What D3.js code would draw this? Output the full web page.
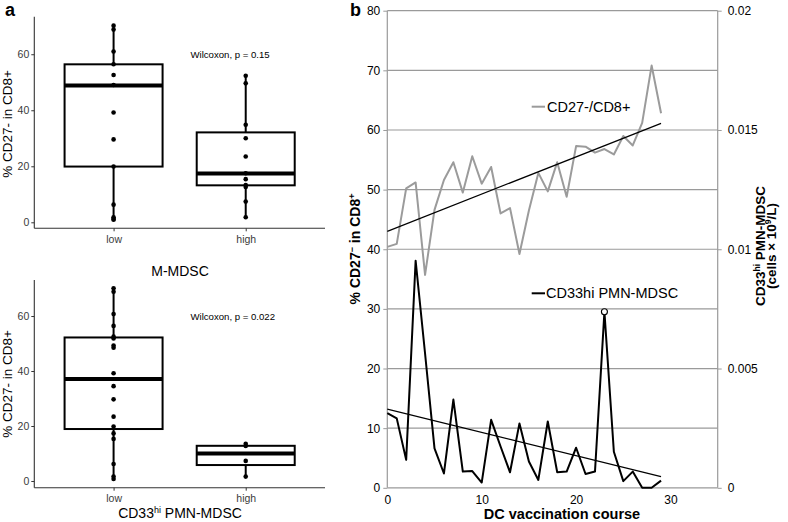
<!DOCTYPE html>
<html><head><meta charset="utf-8">
<script src="https://cdn.jsdelivr.net/npm/d3@7"></script>
<style>
body{margin:0;background:#fff;}
svg{display:block;font-family:"Liberation Sans",Arial,Helvetica,sans-serif;}
</style></head>
<body><svg id="c" width="788" height="522"></svg>
<script>
// ---------- Panel a data ----------
const groups = ["low","high"];
// top: M-MDSC
const mPointsLow  = [70.2,68.8,61.0,56.4,52.6,49.0,39.2,29.6,19.9,6.3,1.8,1.2,0.9];
const mPointsHigh = [52.3,49.6,34.8,30.0,23.5,17.5,15.4,13.3,12.6,7.4,1.8];
const mBoxLow  = {min:0.9, q1:19.9, med:48.8, q3:56.4, max:70.2};
const mBoxHigh = {min:1.8, q1:13.2, med:17.4, q3:32.1, max:52.3};
// bottom: CD33hi PMN-MDSC
const pPointsLow  = [70.1,68.8,60.7,56.4,52.5,51.8,49.3,48.5,39.2,34.5,29.7,23.4,19.8,17.3,15.3,6.2,1.6,0.7];
const pPointsHigh = [13.5,12.7,7.3,1.6];
const pBoxLow  = {min:0.7, q1:18.9, med:37.1, q3:52.2, max:70.1};
const pBoxHigh = {min:1.6, q1:5.8, med:10.0, q3:12.8, max:13.5};
const aTicks = [0,20,40,60];

// ---------- Panel b data ----------
const course = [0,1,2,3,4,5,6,7,8,9,10,11,12,13,14,15,16,17,18,19,20,21,22,23,24,25,26,27,28,29];
const cd27 = [40.4,40.9,50.2,51.2,35.7,46.6,51.6,54.6,49.5,55.6,51.0,53.8,46.0,46.9,39.2,46.5,52.8,49.7,54.6,48.8,57.3,57.2,56.2,56.8,55.9,59.0,57.4,61.2,70.8,62.8];
const cd33 = [0.00313,0.00291,0.00117,0.00952,0.00563,0.00165,0.00060,0.00370,0.00068,0.00070,0.00022,0.00285,0.00173,0.00065,0.00270,0.00110,0.00033,0.00278,0.00065,0.00068,0.00168,0.00058,0.00068,0.00738,0.00151,0.00028,0.00068,0,0,0.00030];
const cd27Trend = [{x:0,y:43.0},{x:29,y:61.1}];
const cd33Trend = [{x:0,y:0.0033},{x:29,y:0.000465}];
const leftTicks = [0,10,20,30,40,50,60,70,80];
const rightTicks = [0,0.005,0.01,0.015,0.02];
const bottomTicks = [0,10,20,30];

const svg = d3.select("#c");

// ---------- Panel a ----------
function boxPanel(cfg){
  const g = svg.append("g");
  const x = d3.scalePoint().domain(groups).range([34.3,325]).padding(0.6);
  const bw = 98;
  const y = d3.scaleLinear().domain(cfg.ydom).range([cfg.bottom, cfg.top]);
  const ya = g.append("g").attr("transform","translate(34.3,0)")
    .call(d3.axisLeft(y).tickValues(aTicks).tickSize(3).tickPadding(2));
  ya.select(".domain").attr("stroke","#333").attr("stroke-width",1.1).attr("d",`M0,${cfg.top}V${cfg.bottom}`);
  ya.selectAll(".tick line").attr("stroke","#333");
  ya.selectAll(".tick text").attr("font-size",10.5).attr("fill","#3a3a3a").attr("font-family","Liberation Sans, Arial");
  const xa = g.append("g").attr("transform",`translate(0,${cfg.bottom})`)
    .call(d3.axisBottom(x).tickSize(3).tickPadding(4));
  xa.select(".domain").attr("stroke","#333").attr("stroke-width",1.1).attr("d","M34.3,0H325");
  xa.selectAll(".tick line").attr("stroke","#333");
  xa.selectAll(".tick text").attr("font-size",10.5).attr("fill","#3a3a3a").attr("font-family","Liberation Sans, Arial");
  [[groups[0],cfg.boxLow,cfg.ptsLow],[groups[1],cfg.boxHigh,cfg.ptsHigh]].forEach(([k,b,pts])=>{
    const cx = x(k);
    g.append("line").attr("x1",cx).attr("x2",cx).attr("y1",y(b.min)).attr("y2",y(b.q1)).attr("stroke","#000").attr("stroke-width",2);
    g.append("line").attr("x1",cx).attr("x2",cx).attr("y1",y(b.q3)).attr("y2",y(b.max)).attr("stroke","#000").attr("stroke-width",2);
    g.append("rect").attr("x",cx-bw/2).attr("width",bw).attr("y",y(b.q3)).attr("height",y(b.q1)-y(b.q3))
      .attr("fill","#fff").attr("stroke","#000").attr("stroke-width",2);
    g.append("line").attr("x1",cx-bw/2).attr("x2",cx+bw/2).attr("y1",y(b.med)).attr("y2",y(b.med)).attr("stroke","#000").attr("stroke-width",4);
    g.selectAll(null).data(pts).enter().append("circle").attr("cx",cx).attr("cy",d=>y(d)).attr("r",2.3).attr("fill","#000");
  });
  g.append("text").attr("x",190.5).attr("y",cfg.wy).attr("dy","0.35em").attr("font-size",9.6).text(cfg.wtext);
  g.append("text").attr("transform",`translate(12,${cfg.ymid}) rotate(-90)`).attr("text-anchor","middle")
    .attr("font-size",13.5).text("% CD27- in CD8+");
  const xt = g.append("text").attr("x",180).attr("y",cfg.xty).attr("text-anchor","middle").attr("dy","0.35em").attr("font-size",14);
  if(cfg.sup){
    xt.append("tspan").text("CD33");
    xt.append("tspan").attr("font-size",9).attr("dy",-5).text("hi");
    xt.append("tspan").attr("dy",5).text(" PMN-MDSC");
  } else xt.text(cfg.xtitle);
}
boxPanel({ydom:[-2.14,73.4], top:16.7, bottom:228.3, boxLow:mBoxLow, boxHigh:mBoxHigh, ptsLow:mPointsLow, ptsHigh:mPointsHigh,
  wy:54.3, wtext:"Wilcoxon, p = 0.15", ymid:124, xty:270.7, xtitle:"M-MDSC"});
boxPanel({ydom:[-2.44,73.1], top:280, bottom:487.7, boxLow:pBoxLow, boxHigh:pBoxHigh, ptsLow:pPointsLow, ptsHigh:pPointsHigh,
  wy:316.7, wtext:"Wilcoxon, p = 0.022", ymid:384, xty:513.5, sup:true});

svg.append("text").attr("x",5).attr("y",16).attr("font-size",18).attr("font-weight","bold").text("a");
svg.append("text").attr("x",350).attr("y",16).attr("font-size",18).attr("font-weight","bold").text("b");

// ---------- Panel b ----------
const bx = d3.scaleLinear().domain([0,35]).range([387.3,717.7]);
const yL = d3.scaleLinear().domain([0,80]).range([487.8,10.7]);
const yR = d3.scaleLinear().domain([0,0.02]).range([487.8,10.7]);
const gb = svg.append("g");
gb.selectAll("line.grid").data(leftTicks).enter().append("line").attr("class","grid")
  .attr("x1",bx(0)).attr("x2",bx(35)).attr("y1",d=>yL(d)).attr("y2",d=>yL(d))
  .attr("stroke","#9a9a9a").attr("stroke-width",1.2);
const la = gb.append("g").attr("transform",`translate(${bx(0)},0)`).call(d3.axisLeft(yL).tickValues(leftTicks).tickSize(4).tickPadding(3));
la.select(".domain").attr("stroke","#9a9a9a").attr("stroke-width",1.2).attr("d",`M0,${yL(80)}V${yL(0)}`);
la.selectAll(".tick line").attr("stroke","#9a9a9a");
la.selectAll(".tick text").attr("font-size",12).attr("fill","#000").attr("font-family","Liberation Sans, Arial");
const ra = gb.append("g").attr("transform",`translate(${bx(35)},0)`).call(d3.axisRight(yR).tickValues(rightTicks).tickSize(4).tickPadding(6).tickFormat(d=>String(d)));
ra.select(".domain").attr("stroke","#9a9a9a").attr("stroke-width",1.2).attr("d",`M0,${yR(0.02)}V${yR(0)}`);
ra.selectAll(".tick line").attr("stroke","#9a9a9a");
ra.selectAll(".tick text").attr("font-size",12).attr("fill","#000").attr("font-family","Liberation Sans, Arial");
const ba = gb.append("g").attr("transform",`translate(0,${yL(0)})`).call(d3.axisBottom(bx).tickValues(bottomTicks).tickSize(0).tickPadding(8));
ba.select(".domain").remove();
ba.selectAll(".tick text").attr("font-size",12).attr("fill","#000").attr("font-family","Liberation Sans, Arial");

const l27 = d3.line().x((d,i)=>bx(course[i])).y(d=>yL(d));
gb.append("path").attr("d",l27(cd27)).attr("fill","none").attr("stroke","#9b9b9b").attr("stroke-width",2).attr("stroke-linejoin","round");
const l33 = d3.line().x((d,i)=>bx(course[i])).y(d=>yR(d));
gb.append("path").attr("d",l33(cd33)).attr("fill","none").attr("stroke","#000").attr("stroke-width",2).attr("stroke-linejoin","round");
gb.append("line").attr("x1",bx(cd27Trend[0].x)).attr("y1",yL(cd27Trend[0].y)).attr("x2",bx(cd27Trend[1].x)).attr("y2",yL(cd27Trend[1].y)).attr("stroke","#000").attr("stroke-width",1.2);
gb.append("line").attr("x1",bx(cd33Trend[0].x)).attr("y1",yR(cd33Trend[0].y)).attr("x2",bx(cd33Trend[1].x)).attr("y2",yR(cd33Trend[1].y)).attr("stroke","#000").attr("stroke-width",1.2);
const pk = 23;
gb.append("circle").attr("cx",bx(course[pk])).attr("cy",yR(cd33[pk])).attr("r",3).attr("fill","#fff").attr("stroke","#000").attr("stroke-width",1.1);

gb.append("line").attr("x1",531.7).attr("x2",545).attr("y1",106.7).attr("y2",106.7).attr("stroke","#9b9b9b").attr("stroke-width",2);
gb.append("text").attr("x",547).attr("y",106.7).attr("dy","0.35em").attr("font-size",14.5).text("CD27-/CD8+");
gb.append("line").attr("x1",531.7).attr("x2",545).attr("y1",293.3).attr("y2",293.3).attr("stroke","#000").attr("stroke-width",2);
gb.append("text").attr("x",546).attr("y",293.3).attr("dy","0.35em").attr("font-size",14.5).text("CD33hi PMN-MDSC");

gb.append("text").attr("x",562).attr("y",514).attr("dy","0.35em").attr("text-anchor","middle").attr("font-size",14.5).attr("font-weight","bold").text("DC vaccination course");
const yl = gb.append("text").attr("transform",`translate(360,249) rotate(-90)`).attr("text-anchor","middle").attr("font-size",14).attr("font-weight","bold");
yl.append("tspan").text("% CD27");
yl.append("tspan").attr("font-size",9).attr("dy",-5).text("−");
yl.append("tspan").attr("dy",5).text(" in CD8");
yl.append("tspan").attr("font-size",9).attr("dy",-5).text("+");
const r1 = gb.append("text").attr("transform",`translate(765,246) rotate(-90)`).attr("text-anchor","middle").attr("font-size",13.5).attr("font-weight","bold");
r1.append("tspan").text("CD33");
r1.append("tspan").attr("font-size",8.5).attr("dy",-5).text("hi");
r1.append("tspan").attr("dy",5).text(" PMN-MDSC");
const r2 = gb.append("text").attr("transform",`translate(776,246) rotate(-90)`).attr("text-anchor","middle").attr("font-size",13.5).attr("font-weight","bold");
r2.append("tspan").text("(cells × 10");
r2.append("tspan").attr("font-size",8.5).attr("dy",-5).text("9");
r2.append("tspan").attr("dy",5).text("/L)");
</script></body></html>
